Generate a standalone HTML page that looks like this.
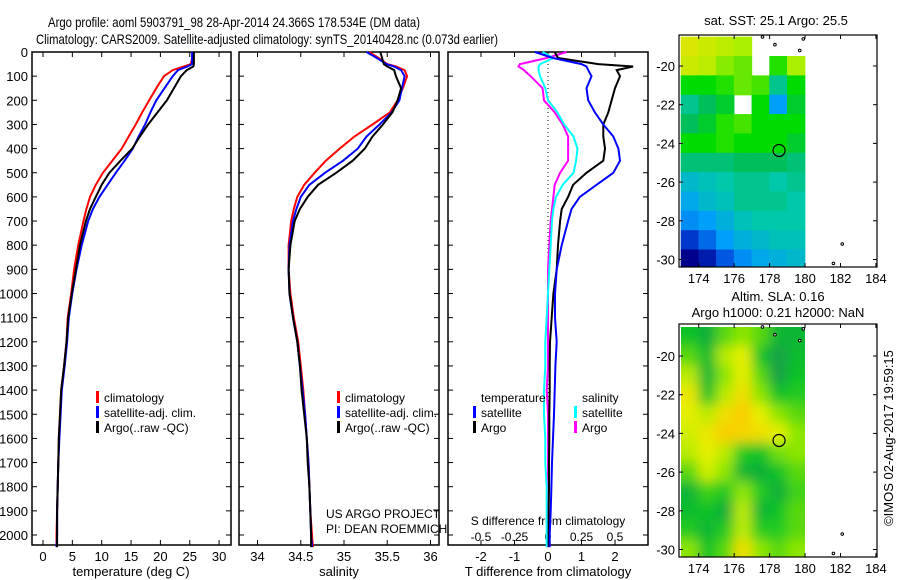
<!DOCTYPE html>
<html><head><meta charset="utf-8"><style>
body{margin:0;background:#fff;}
svg{display:block;font-family:"Liberation Sans",sans-serif;}
text{fill:#000;}
</style></head><body>
<svg id="chart" width="900" height="580" viewBox="0 0 900 580" xmlns="http://www.w3.org/2000/svg">
<text x="48" y="27" font-size="14" textLength="372" lengthAdjust="spacingAndGlyphs">Argo profile: aoml 5903791_98 28-Apr-2014 24.366S 178.534E (DM data)</text>
<text x="36" y="44" font-size="14" textLength="462" lengthAdjust="spacingAndGlyphs">Climatology: CARS2009. Satellite-adjusted climatology: synTS_20140428.nc (0.073d earlier)</text>
<g id="g"></g>
</svg>
<script>
// ---- profile data (depth levels in m) ----
const depths = [0,25,50,60,75,100,150,200,250,300,350,400,450,500,550,600,650,700,800,900,1000,1100,1200,1300,1400,1500,1600,1700,1800,1900,2000,2050];
const tempClim = [25.5,25.4,25.2,24.0,22.1,20.6,19.3,18.1,16.9,15.8,14.6,13.4,11.8,10.2,9.0,8.0,7.4,6.9,6.0,5.3,4.8,4.2,4.0,3.6,3.1,2.9,2.7,2.6,2.5,2.4,2.3,2.3];
const tempSat = [25.4,25.4,25.4,24.6,23.0,22.1,20.7,19.3,18.3,17.4,16.3,15.3,13.9,12.4,11.0,9.6,8.5,7.7,6.6,5.7,5.0,4.4,4.1,3.7,3.2,3.0,2.8,2.6,2.5,2.4,2.4,2.3];
const tempArgo = [25.7,25.7,25.7,25.6,24.5,23.5,22.3,21.1,19.5,17.9,16.5,15.2,13.2,11.3,10.0,9.0,8.0,7.3,6.3,5.6,4.9,4.3,4.0,3.6,3.1,2.9,2.7,2.6,2.5,2.4,2.4,2.4];
const salClim = [35.29,35.40,35.50,35.60,35.70,35.73,35.68,35.62,35.53,35.33,35.12,34.95,34.79,34.66,34.54,34.46,34.42,34.39,34.36,34.36,34.38,34.42,34.47,34.50,34.53,34.55,34.57,34.59,34.60,34.61,34.63,34.64];
const salSat = [35.26,35.38,35.49,35.58,35.66,35.70,35.67,35.64,35.55,35.41,35.26,35.16,34.99,34.78,34.60,34.50,34.45,34.41,34.37,34.36,34.37,34.41,34.46,34.49,34.52,34.55,34.57,34.59,34.60,34.61,34.62,34.63];
const salArgo = [35.42,35.44,35.46,35.50,35.58,35.60,35.66,35.62,35.56,35.45,35.33,35.24,35.10,34.91,34.70,34.58,34.49,34.43,34.38,34.36,34.37,34.41,34.46,34.49,34.51,34.54,34.57,34.58,34.60,34.61,34.62,34.62];
const dTSat = [-0.39,0.15,1.0,1.15,1.2,1.3,1.15,1.2,1.4,1.65,1.95,2.1,2.15,1.95,1.45,0.95,0.7,0.6,0.41,0.26,0.21,0.21,0.26,0.22,0.2,0.18,0.15,0.12,0.1,0.08,0.05,0.05];
const dTArgo = [0.2,0.3,1.5,2.54,2.05,2.15,2.0,1.9,1.8,1.65,1.65,1.7,1.65,1.15,0.75,0.6,0.41,0.36,0.3,0.26,0.16,0.11,0.06,0.05,0.05,0.04,0.04,0.03,0.03,0.02,0.02,0.02];
const dSSat = [-0.04,0.04,-0.06,-0.07,-0.07,-0.06,-0.02,0.0,0.07,0.12,0.19,0.22,0.21,0.19,0.11,0.06,0.04,0.03,0.02,0.01,0.0,-0.01,-0.02,-0.02,-0.03,-0.03,-0.02,-0.02,-0.01,-0.01,-0.01,-0.01];
const dSArgo = [0.14,-0.01,-0.21,-0.22,-0.18,-0.13,-0.04,-0.03,0.05,0.11,0.15,0.15,0.15,0.09,0.05,0.04,0.03,0.02,0.01,0.0,0.0,0.0,0.0,0.0,-0.01,0.0,0.0,0.0,0.0,0.0,0.0,0.0];
const depthTicks = [0,100,200,300,400,500,600,700,800,900,1000,1100,1200,1300,1400,1500,1600,1700,1800,1900,2000];
const tempTicks = [0,5,10,15,20,25,30];
const salTicks = ["34","34.5","35","35.5","36"];
const dTTicks = [-2,-1,0,1,2];
const dSTicks = ["-0.5","-0.25","0","0.25","0.5"];
// ---- map data: 1-degree cells, rows lat -19..-30 (centres), cols lon 173.5..179.5 ----
const mapLats = [-19,-20,-21,-22,-23,-24,-25,-26,-27,-28,-29,-30];
const mapLons = [173.5,174.5,175.5,176.5,177.5,178.5,179.5];
const sst = [
[25.8,25.7,25.6,25.5,null,null,null],
[25.7,25.6,25.4,25.3,null,25.1,25.5],
[25.0,25.0,25.1,25.3,25.2,24.6,25.0],
[24.6,24.8,24.9,null,25.0,24.0,24.9],
[24.8,24.9,25.1,25.2,25.0,25.0,25.0],
[25.0,25.0,25.1,25.0,25.0,25.0,24.9],
[24.7,24.7,24.7,24.8,24.8,24.8,24.7],
[24.3,24.4,24.5,24.6,24.6,24.5,24.6],
[24.1,24.3,24.4,24.6,24.6,24.6,24.5],
[23.9,24.0,24.2,24.4,24.5,24.5,24.5],
[23.4,23.7,24.0,24.2,24.3,24.4,24.4],
[23.0,23.2,23.6,23.9,24.1,24.2,24.3]];
const sla = [
[0.05,0.02,0.08,0.10,0.08,0.03,0.03],
[0.08,0.04,0.12,0.14,0.05,0.00,0.04],
[0.12,0.03,0.10,0.14,0.08,0.00,0.05],
[0.15,0.05,0.12,0.16,0.10,0.05,0.06],
[0.14,0.12,0.16,0.18,0.14,0.10,0.08],
[0.13,0.15,0.18,0.17,0.16,0.14,0.10],
[0.12,0.14,0.12,0.06,0.05,0.09,0.10],
[0.08,0.13,0.10,0.03,0.02,0.05,0.08],
[0.03,0.07,0.06,0.10,0.06,0.02,0.07],
[0.04,0.05,0.02,0.12,0.03,0.05,0.08],
[0.06,0.03,0.06,0.12,0.06,0.06,0.08],
[0.10,0.05,0.08,0.16,0.10,0.08,0.10]];
const argoLon = 178.534, argoLat = -24.366;

const NS="http://www.w3.org/2000/svg";
const G=document.getElementById('g');
function mk(tag,attrs,parent){const e=document.createElementNS(NS,tag);for(const k in attrs)e.setAttribute(k,attrs[k]);(parent||G).appendChild(e);return e;}
function txt(s,x,y,anchor,size,parent){const e=mk('text',{x:x,y:y,'text-anchor':anchor||'middle','font-size':size||13},parent);e.textContent=s;return e;}

const TOP=52, BOT=545;
const yD = d => TOP + d*0.2415;
const panels=[[32,231],[239,439],[448,648]];
const xT = v => 43 + v*5.87;
const xS = v => 257.5 + (v-34)*86.5;
const xdT = v => 548 + v*33.5;
const xdS = v => 548 + v*134;

panels.forEach((p,i)=>{
  const f=mk('rect',{x:p[0],y:TOP,width:p[1]-p[0],height:BOT-TOP,fill:'none',stroke:'#000','stroke-width':1.5});
  
  
  depthTicks.forEach(d=>{
    mk('line',{x1:p[0],x2:p[0]+5,y1:yD(d),y2:yD(d),stroke:'#000'});
    mk('line',{x1:p[1]-5,x2:p[1],y1:yD(d),y2:yD(d),stroke:'#000'});
  });
});
depthTicks.forEach(d=>{
  const t=txt(String(d),28,yD(d)+5,'end',13);
  
  
});
function xticks(vals,fx,lbly,labels){
  vals.forEach((v,i)=>{
    const x=fx(v);
    mk('line',{x1:x,x2:x,y1:BOT-5,y2:BOT,stroke:'#000'});
    mk('line',{x1:x,x2:x,y1:TOP,y2:TOP+5,stroke:'#000'});
    if(lbly){const t=txt(labels?labels[i]:String(v),x,lbly,'middle',13);
      
      }
  });
}
xticks(tempTicks,xT,561);
xticks(salTicks.map(Number),xS,561,salTicks);
xticks(dTTicks,xdT,561);
dSTicks.forEach(s=>{const t=txt(s,xdS(Number(s)),541,'middle',12);
  
  });
let t;
t=txt('temperature (deg C)',131,576);
t=txt('salinity',339,576);
t=txt('T difference from climatology',548,576);
t=txt('S difference from climatology',548,525,'middle',12);
t=txt('US ARGO PROJECT',326,518,'start',12);
t=txt('PI: DEAN ROEMMICH',326,533,'start',12);

const zl=mk('line',{x1:548,x2:548,y1:TOP,y2:BOT,stroke:'#000','stroke-dasharray':'1,3'});



function series(vals,fx,color,name,w){
  const pts=vals.map((v,i)=>fx(v).toFixed(1)+','+yD(depths[i]).toFixed(1)).join(' ');
  const pl=mk('polyline',{points:pts,fill:'none',stroke:color,'stroke-width':w||2});
  
  
}
series(tempClim,xT,'#f00','temp-climatology-line');
series(tempSat,xT,'#00f','temp-satellite-line');
series(tempArgo,xT,'#000','temp-argo-line');
series(salClim,xS,'#f00','sal-climatology-line');
series(salSat,xS,'#00f','sal-satellite-line');
series(salArgo,xS,'#000','sal-argo-line');
series(dSArgo,xdS,'#f0f','s-diff-argo-line');
series(dSSat,xdS,'#0ff','s-diff-satellite-line');
series(dTArgo,xdT,'#000','t-diff-argo-line');
series(dTSat,xdT,'#00f','t-diff-satellite-line');

function legend(x,y,items,name){
  items.forEach((it,i)=>{
    if(it[1]){const r=mk('rect',{x:x,y:y+i*15-11,width:3,height:12,fill:it[1]});
      
      }
    const tt=txt(it[0],x+8,y+i*15,'start',12);
    
    
  });
}
const legItems=[['climatology','#f00'],['satellite-adj. clim.','#00f'],['Argo(..raw -QC)','#000']];
legend(96,402,legItems,'temp-legend');
legend(337,402,legItems,'sal-legend');
legend(473,402,[['temperature',null],['satellite','#00f'],['Argo','#000']],'t-diff-legend');
legend(574,402,[['salinity',null],['satellite','#0ff'],['Argo','#f0f']],'s-diff-legend');

// ---- maps ----
function lerpCol(stops,v){
  if(v<=stops[0][0])return 'rgb('+stops[0][1].join(',')+')';
  for(let i=1;i<stops.length;i++){if(v<=stops[i][0]){const a=stops[i-1],b=stops[i],f=(v-a[0])/(b[0]-a[0]);
    return 'rgb('+a[1].map((c,k)=>Math.round(c+(b[1][k]-c)*f)).join(',')+')';}}
  return 'rgb('+stops[stops.length-1][1].join(',')+')';
}
const sstStops=[[23.0,[0,0,140]],[23.5,[0,70,220]],[24.0,[0,160,250]],[24.5,[0,200,170]],[24.8,[0,190,90]],[25.0,[0,220,0]],[25.5,[170,240,0]],[26.0,[250,225,0]],[26.3,[250,150,0]]];
const slaStops=[[0.0,[20,160,70]],[0.05,[10,195,40]],[0.10,[140,230,0]],[0.14,[230,240,0]],[0.18,[250,205,0]]];

function drawMap(y0,y1,lat20y,data,stops,name,blur){
  const x0=679,x1=877;
  const px=lon=>681+(lon-173)*17.72;
  const py=lat=>lat20y+(-20-lat)*19.35;
  const cid='clip'+name;
  const cp=mk('clipPath',{id:cid});mk('rect',{x:x0,y:y0,width:x1-x0,height:y1-y0},cp);
  const g=mk('g',{'clip-path':'url(#'+cid+')'});
  
  
  let inner=g;
  const nR=mapLats.length,nC=mapLons.length;
  if(blur){
    const bx=px(173),by=py(-18.5),bw=px(180)-px(173),bh=py(-30.5)-py(-18.5);
    const c2=mk('clipPath',{id:'dc'+name});mk('rect',{x:bx,y:by,width:bw,height:bh},c2);
    const gg=mk('g',{'clip-path':'url(#dc'+name+')'},g);
    const fl=mk('filter',{id:'bl'+name,filterUnits:'userSpaceOnUse',x:bx-40,y:by-40,width:bw+80,height:bh+80});
    mk('feGaussianBlur',{stdDeviation:6},fl);
    inner=mk('g',{filter:'url(#bl'+name+')'},gg);}
  mapLats.forEach((lat,r)=>mapLons.forEach((lon,c)=>{
    const v=data[r][c]; if(v===null)return;
    let x=px(lon-0.5)-0.3,y=py(lat+0.5)-0.3,w=17.72+0.6,h=19.35+0.6;
    if(blur){const P=30;
      if(c===0){x-=P;w+=P;} if(c===nC-1){w+=P;}
      if(r===0){y-=P;h+=P;} if(r===nR-1){h+=P;}}
    const cell=mk('rect',{x:x,y:y,width:w,height:h,fill:lerpCol(stops,v)},inner);
    
    
  }));
  const fr=mk('rect',{x:x0,y:y0,width:x1-x0,height:y1-y0,fill:'none',stroke:'#000','stroke-width':1.2});
  
  
  [-20,-22,-24,-26,-28,-30].forEach(l=>{const y=py(l);
    mk('line',{x1:x0,x2:x0+4,y1:y,y2:y,stroke:'#000'});mk('line',{x1:x1-4,x2:x1,y1:y,y2:y,stroke:'#000'});
    const tl=txt(String(l),x0-4,y+5,'end',13);});
  [174,176,178,180,182,184].forEach(l=>{const x=px(l);
    mk('line',{x1:x,x2:x,y1:y1-4,y2:y1,stroke:'#000'});mk('line',{x1:x,x2:x,y1:y0,y2:y0+4,stroke:'#000'});
    const tl=txt(String(l),x,y1+16,'middle',13);});
  [[178.3,-18.9],[179.9,-18.6],[179.7,-19.2],[182.1,-29.2],[181.6,-30.2],[177.6,-18.5]].forEach(p=>{
    const isl=mk('circle',{cx:px(p[0]),cy:py(p[1]),r:1.3,fill:'#fff',stroke:'#000','stroke-width':1});
    });
  const ac=mk('circle',{cx:px(argoLon),cy:py(argoLat),r:6,fill:'none',stroke:'#000','stroke-width':1.2});
  
  
}
drawMap(35,267,66,sst,sstStops,'sst-map',false);
drawMap(324,557,356,sla,slaStops,'sla-map',true);
t=txt('sat. SST: 25.1 Argo: 25.5',776,25);
t=txt('Altim. SLA: 0.16',778,301);
t=txt('Argo h1000: 0.21 h2000: NaN',778,317);
t=txt('©IMOS 02-Aug-2017 19:59:15',0,0,'middle',13);
t.setAttribute('transform','translate(893,438) rotate(-90)');

</script>
</body></html>
